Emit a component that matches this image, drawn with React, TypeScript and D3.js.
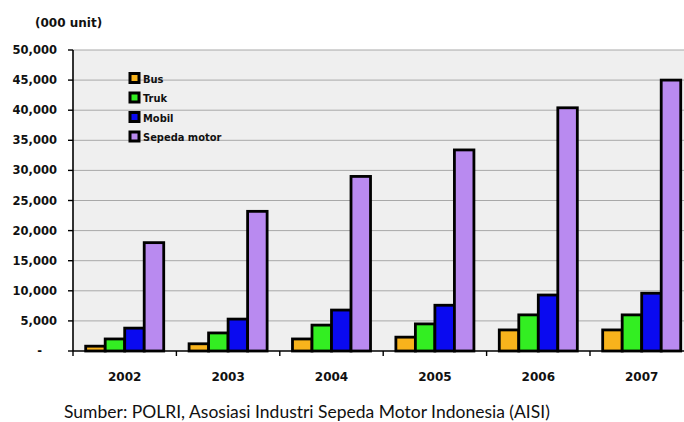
import React from "react";
import * as d3 from "d3";

const years = ["2002", "2003", "2004", "2005", "2006", "2007"];
const seriesNames = ["Bus", "Truk", "Mobil", "Sepeda motor"];
const bus = [800, 1200, 2000, 2300, 3500, 3500];
const truk = [2000, 3000, 4300, 4500, 6000, 6000];
const mobil = [3800, 5300, 6800, 7600, 9300, 9600];
const sepedaMotor = [18000, 23200, 29000, 33400, 40400, 45000];
const yTicks = [0, 5000, 10000, 15000, 20000, 25000, 30000, 35000, 40000, 45000, 50000];
const colors = ["#f8b31c", "#33ee22", "#0a0af0", "#b98af0"];

const W = 684;
const H = 422;

export default function App() {
  const seriesValues = [bus, truk, mobil, sepedaMotor];
  const left = 73;
  const top = 50;
  const bottom = 351;
  const bandW = 103.4;
  const x0 = d3.scaleBand<string>().domain(years).range([left, left + bandW * years.length]).padding(0);
  const x1 = d3
    .scaleBand<string>()
    .domain(seriesNames)
    .range([0, x0.bandwidth()])
    .paddingInner(0)
    .paddingOuter(0.65);
  const y = d3.scaleLinear().domain([0, 50000]).range([bottom, top]);
  const fmt = d3.format(",");
  const numFont = "'DejaVu Sans', Verdana, sans-serif";
  const legendFont = "'Liberation Sans Narrow', 'DejaVu Sans Condensed', 'Liberation Sans', sans-serif";

  return (
    <svg
      width={W}
      height={H}
      style={{ position: "absolute", left: 0, top: 0, background: "#fff" }}
      xmlns="http://www.w3.org/2000/svg"
    >
      {/* plot background */}
      <rect x={left} y={top} width={W - left} height={bottom - top} fill="#efefef" />
      {/* gridlines */}
      {yTicks.filter((t) => t > 0).map((t) => (
        <line key={t} x1={left} x2={W} y1={y(t)} y2={y(t)} stroke="#a8a8a8" strokeWidth={1} />
      ))}
      {/* bars */}
      {years.map((yr, i) => (
        <g key={yr} transform={`translate(${x0(yr)},0)`}>
          {seriesNames.map((s, j) => {
            const v = seriesValues[j][i];
            return (
              <rect
                key={s}
                x={x1(s)}
                y={y(v)}
                width={x1.bandwidth()}
                height={bottom - y(v)}
                fill={colors[j]}
                stroke="#000"
                strokeWidth={2.8}
              />
            );
          })}
        </g>
      ))}
      {/* axes */}
      <line x1={left} x2={left} y1={top} y2={bottom} stroke="#000" strokeWidth={1.6} />
      <line x1={left} x2={W} y1={bottom} y2={bottom} stroke="#000" strokeWidth={1.6} />
      {yTicks.map((t) => (
        <g key={t}>
          <line x1={left - 5} x2={left} y1={y(t)} y2={y(t)} stroke="#000" strokeWidth={1.4} />
          <text
            x={t === 0 ? 42 : 57}
            y={y(t) + 4}
            textAnchor="end"
            fontFamily={numFont}
            fontWeight="bold"
            fontSize={11.5}
            fill="#111"
          >
            {t === 0 ? "-" : fmt(t)}
          </text>
        </g>
      ))}
      {years.map((yr) => (
        <g key={yr}>
          <line x1={x0(yr)!} x2={x0(yr)!} y1={bottom} y2={bottom + 5} stroke="#000" strokeWidth={1.4} />
          <text
            x={x0(yr)! + x0.bandwidth() / 2}
            y={381}
            textAnchor="middle"
            fontFamily={numFont}
            fontWeight="bold"
            fontSize={12}
            fill="#111"
          >
            {yr}
          </text>
        </g>
      ))}
      {/* unit label */}
      <text x={35} y={27} fontFamily={numFont} fontWeight="bold" fontSize={12} fill="#111">
        (000 unit)
      </text>
      {/* legend */}
      {seriesNames.map((s, j) => (
        <g key={s} transform={`translate(130,${78 + j * 19.5})`}>
          <rect x={0} y={-4.5} width={9} height={9} fill={colors[j]} stroke="#000" strokeWidth={3} />
          <text x={13} y={4.5} fontFamily={legendFont} fontWeight="bold" fontSize={11} fill="#111">
            {s}
          </text>
        </g>
      ))}
      {/* source */}
      <text x={64} y={418} fontFamily="Lato, 'Open Sans', sans-serif" fontSize={17.5} fill="#111">
        Sumber: POLRI, Asosiasi Industri Sepeda Motor Indonesia (AISI)
      </text>
    </svg>
  );
}
